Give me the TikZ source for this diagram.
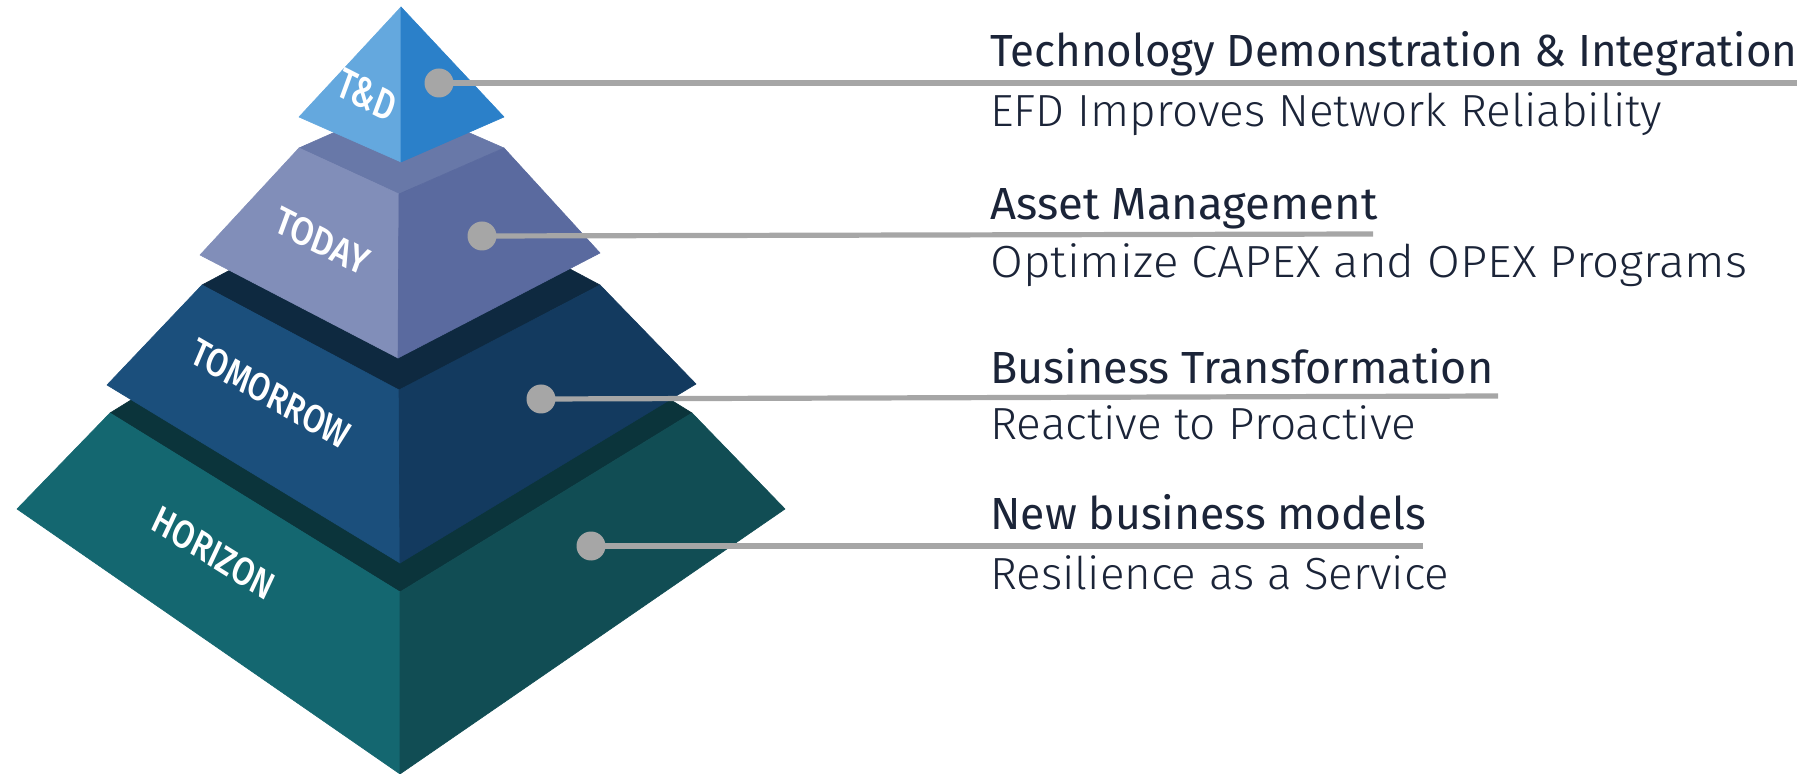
\documentclass[tikz,border=0pt]{standalone}
\usepackage{fontspec}
\usepackage{graphicx}
\setmainfont{Fira Sans}
\newfontfamily\lightf{Fira Sans Light}
\newfontfamily\medf{Fira Sans Medium}
\newsavebox\fitbox
\newlength\fitlen
\newcommand\fitw[2]{\sbox\fitbox{#2}\fitlen=\wd\fitbox\pgfmathsetmacro\fitratio{#1/\fitlen}\scalebox{\fitratio}[1]{\usebox\fitbox}}
\definecolor{tdL}{HTML}{64A8DE}
\definecolor{tdR}{HTML}{2B80C9}
\definecolor{toT}{HTML}{6878A8}
\definecolor{toL}{HTML}{818EB9}
\definecolor{toR}{HTML}{5A6A9F}
\definecolor{tmT}{HTML}{0E2940}
\definecolor{tmL}{HTML}{1B4F7C}
\definecolor{tmR}{HTML}{133A5F}
\definecolor{hoT}{HTML}{0B343B}
\definecolor{hoL}{HTML}{146770}
\definecolor{hoR}{HTML}{114D54}
\definecolor{greyc}{HTML}{A6A6A6}
\definecolor{txt}{HTML}{1B2438}
\begin{document}
\begin{tikzpicture}[x=0.5pt,y=-0.5pt,
  face/.style={fill=#1,draw=#1,line width=0.3pt,line join=round},
  dot/.style={circle,fill=greyc,inner sep=0pt,minimum size=14.5pt},
  conn/.style={draw=greyc,line width=2.6pt},
  title/.style={anchor=base west,inner sep=0pt,text=txt,font=\fontsize{22.5}{27}\selectfont},
  sub/.style={anchor=base west,inner sep=0pt,text=txt,font=\lightf\fontsize{22.5}{27}\selectfont},
  lab/.style={inner sep=0pt,text=white,font=\medf\fontsize{19}{21}\selectfont}]
\useasboundingbox (0,0) rectangle (1808,774);
% HORIZON
\fill[face=hoT] (110,413) -- (401,233) -- (692,413) -- (400,592) -- cycle;
\fill[face=hoL] (110,413) -- (400,592) -- (400,774) -- (17,509) -- cycle;
\fill[face=hoR] (400,592) -- (692,413) -- (785,509) -- (400,774) -- cycle;
% TOMORROW
\fill[face=tmT] (202,285) -- (401,179) -- (600,285) -- (399,390) -- cycle;
\fill[face=tmL] (202,285) -- (399,390) -- (400,563) -- (107,385) -- cycle;
\fill[face=tmR] (399,390) -- (600,285) -- (696,384) -- (400,563) -- cycle;
% TODAY
\fill[face=toT] (299,148) -- (401,103) -- (504,148) -- (399,194) -- cycle;
\fill[face=toL] (299,148) -- (399,194) -- (398,358) -- (200,255) -- cycle;
\fill[face=toR] (399,194) -- (504,148) -- (600,253) -- (398,358) -- cycle;
% T&D
\fill[face=tdL] (401,7) -- (299,117) -- (401,162) -- cycle;
\fill[face=tdR] (401,7) -- (504,117) -- (401,162) -- cycle;
% labels on faces
\node[lab,rotate=-27,xslant=-0.12,font=\medf\fontsize{21}{23}\selectfont] (lTD) at (367,95) {\fitw{31}{T\&D}};
\node[lab,rotate=-27,xslant=-0.12] (lTO) at (322,241) {\fitw{51}{TODAY}};
\node[lab,rotate=-30,xslant=-0.12] (lTM) at (271,394) {\fitw{89}{TOMORROW}};
\node[lab,rotate=-32,xslant=-0.12] (lHO) at (214,553) {\fitw{69}{HORIZON}};
% dots and connectors
\node[dot] (d1) at (439,83) {};
\node[dot] (d2) at (482,236) {};
\node[dot] (d3) at (541,399) {};
\node[dot] (d4) at (591,546) {};
\coordinate (e1) at (1797,83);
\coordinate (e2) at (1373,234);
\coordinate (e3) at (1498,396);
\coordinate (e4) at (1423,546);
\draw[conn] (d1.center) -- (e1);
\draw[conn] (d2.center) -- (e2);
\draw[conn] (d3.center) -- (e3);
\draw[conn] (d4.center) -- (e4);
% texts
\node[title] (t1) at (990,67) {\fitw{403.5}{Technology Demonstration \& Integration}};
\node[sub] (s1) at (990,127) {\fitw{336}{EFD Improves Network Reliability}};
\node[title] (t2) at (990,220) {\fitw{193.5}{Asset Management}};
\node[sub] (s2) at (990,278) {\fitw{378.5}{Optimize CAPEX and OPEX Programs}};
\node[title] (t3) at (990,384) {\fitw{251.5}{Business Transformation}};
\node[sub] (s3) at (990,440) {\fitw{213}{Reactive to Proactive}};
\node[title] (t4) at (990,530) {\fitw{218}{New business models}};
\node[sub] (s4) at (990,589) {\fitw{229.5}{Resilience as a Service}};
\end{tikzpicture}
\end{document}
